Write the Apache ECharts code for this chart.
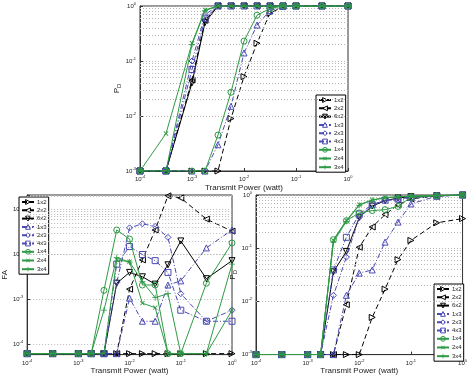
<!DOCTYPE html>
<html>
<head>
<meta charset="utf-8">
<script src="https://cdn.jsdelivr.net/npm/echarts@6/dist/echarts.min.js"></script>
<style>
  html, body { margin: 0; padding: 0; background: #fff; }
  #chart { width: 470px; height: 376px; }
</style>
</head>
<body>
<div id="chart"></div>
<script>
// transmit power (watt), shared by all three panels
const power = [1e-4, 3.16e-4, 1e-3, 1.78e-3, 3.16e-3, 5.62e-3, 1e-2, 1.78e-2, 3.16e-2, 5.62e-2, 1e-1, 3.16e-1, 1];
const seriesNames = ['1x2', '2x2', '6x2', '1x3', '2x3', '4x3', '1x4', '2x4', '3x4'];

// top panel: P_D
const topPd1x2 = [1e-3, 1e-3, 1e-3, 1e-3, 1e-3, 9e-3, 0.052, 0.21, 0.74, 0.97, 1, 1, 1];
const topPd2x2 = [1e-3, 1e-3, 0.045, 0.55, 1, 1, 1, 1, 1, 1, 1, 1, 1];
const topPd6x2 = [1e-3, 1e-3, 0.04, 0.5, 1, 1, 1, 1, 1, 1, 1, 1, 1];
const topPd1x3 = [1e-3, 1e-3, 1e-3, 1e-3, 3e-3, 0.015, 0.14, 0.45, 0.82, 0.98, 1, 1, 1];
const topPd2x3 = [1e-3, 1e-3, 0.1, 0.7, 1, 1, 1, 1, 1, 1, 1, 1, 1];
const topPd4x3 = [1e-3, 1e-3, 0.07, 0.6, 1, 1, 1, 1, 1, 1, 1, 1, 1];
const topPd1x4 = [1e-3, 1e-3, 1e-3, 1e-3, 4.5e-3, 0.027, 0.23, 0.68, 0.9, 1, 1, 1, 1];
const topPd2x4 = [1e-3, 4.8e-3, 0.21, 0.85, 1, 1, 1, 1, 1, 1, 1, 1, 1];
const topPd3x4 = [1e-3, 1e-3, 0.2, 0.82, 1, 1, 1, 1, 1, 1, 1, 1, 1];

// bottom-left panel: false alarm
const faFloor = 6.3e-5;
const fa1x2 = [faFloor, faFloor, faFloor, faFloor, faFloor, faFloor, faFloor, faFloor, faFloor, faFloor, faFloor, faFloor, faFloor];
const fa2x2 = [faFloor, faFloor, faFloor, faFloor, faFloor, faFloor, 1.7e-3, 7.6e-3, 0.035, 0.2, 0.18, 0.061, 0.033];
const fa6x2 = [faFloor, faFloor, faFloor, faFloor, faFloor, 2.3e-3, 4e-3, 3.2e-3, 2.2e-3, 5.9e-3, 0.02, 2.9e-3, 7.3e-3];
const fa1x3 = [faFloor, faFloor, faFloor, faFloor, faFloor, faFloor, 1.07e-3, 3.3e-4, 3.3e-4, 2.1e-3, 2.6e-3, 0.014, 0.035];
const fa2x3 = [faFloor, faFloor, faFloor, faFloor, faFloor, 2.4e-3, 0.039, 0.048, 0.042, 0.024, 1.35e-3, 3.3e-4, 5.8e-4];
const fa4x3 = [faFloor, faFloor, faFloor, faFloor, faFloor, 6.1e-3, 0.015, 0.01, 7.3e-3, 4e-3, 5.8e-4, 3.3e-4, 3.3e-4];
const fa1x4 = [faFloor, faFloor, faFloor, faFloor, 1.6e-3, 0.035, 0.022, 2.1e-3, 2.1e-3, faFloor, faFloor, 2.3e-3, 0.018];
const fa2x4 = [faFloor, faFloor, faFloor, faFloor, faFloor, 7.6e-3, 6.9e-3, 8.3e-4, 6.6e-4, faFloor, faFloor, faFloor, 5.8e-4];
const fa3x4 = [faFloor, faFloor, faFloor, faFloor, 5.8e-4, 8.5e-3, 6.8e-3, 2.5e-3, 1.1e-3, 1.35e-3, faFloor, faFloor, 6.1e-3];

// bottom-right panel: P_D
const brPd1x2 = [1e-3, 1e-3, 1e-3, 1e-3, 1e-3, 1e-3, 1e-3, 5e-3, 0.017, 0.061, 0.14, 0.3, 0.36];
const brPd2x2 = [1e-3, 1e-3, 1e-3, 1e-3, 1e-3, 8.7e-3, 0.104, 0.25, 0.43, 0.65, 0.85, 0.95, 1];
const brPd6x2 = [1e-3, 1e-3, 1e-3, 1e-3, 0.036, 0.087, 0.38, 0.62, 0.78, 0.88, 0.93, 0.97, 1];
const brPd1x3 = [1e-3, 1e-3, 1e-3, 1e-3, 1e-3, 0.013, 0.034, 0.039, 0.13, 0.31, 0.68, 0.95, 1];
const brPd2x3 = [1e-3, 1e-3, 1e-3, 1e-3, 0.013, 0.068, 0.38, 0.64, 0.8, 0.8, 0.88, 0.96, 1];
const brPd4x3 = [1e-3, 1e-3, 1e-3, 1e-3, 0.039, 0.16, 0.44, 0.66, 0.8, 0.84, 0.9, 0.96, 1];
const brPd1x4 = [1e-3, 1e-3, 1e-3, 1e-3, 0.145, 0.33, 0.46, 0.51, 0.53, 0.61, 0.9, 0.96, 1];
const brPd2x4 = [1e-3, 1e-3, 1e-3, 1e-3, 0.14, 0.33, 0.66, 0.81, 0.9, 0.93, 0.95, 0.98, 1];
const brPd3x4 = [1e-3, 1e-3, 1e-3, 1e-3, 0.13, 0.32, 0.64, 0.8, 0.88, 0.92, 0.95, 0.98, 1];

const black = '#000000';
const blue = '#4a4ab4';
const green = '#2f9a45';
const dashed = [5, 3];
const dashDot = [5, 2, 1, 2];
const plusPath = 'path://M4.3,0H5.7V4.3H10V5.7H5.7V10H4.3V5.7H0V4.3H4.3Z';

// marker + line style for each legend entry
const styles = {
  '1x2': { color: black, line: dashed, symbol: 'triangle', rotate: -90 },
  '2x2': { color: black, line: dashed, symbol: 'triangle', rotate: 90 },
  '6x2': { color: black, line: 'solid', symbol: 'triangle', rotate: 180 },
  '1x3': { color: blue, line: dashDot, symbol: 'triangle', rotate: 0 },
  '2x3': { color: blue, line: dashDot, symbol: 'diamond', rotate: 0 },
  '4x3': { color: blue, line: dashDot, symbol: 'rect', rotate: 0 },
  '1x4': { color: green, line: 'solid', symbol: 'circle', rotate: 0 },
  '2x4': { color: green, line: 'solid', symbol: plusPath, rotate: 45, filled: true },
  '3x4': { color: green, line: 'solid', symbol: plusPath, rotate: 0, filled: true },
};

const topData = [topPd1x2, topPd2x2, topPd6x2, topPd1x3, topPd2x3, topPd4x3, topPd1x4, topPd2x4, topPd3x4];
const faData = [fa1x2, fa2x2, fa6x2, fa1x3, fa2x3, fa4x3, fa1x4, fa2x4, fa3x4];
const brData = [brPd1x2, brPd2x2, brPd6x2, brPd1x3, brPd2x3, brPd4x3, brPd1x4, brPd2x4, brPd3x4];

function markerStyle(s) {
  return s.filled
    ? { color: s.color, borderWidth: 0 }
    : { color: 'rgba(255,255,255,0)', borderColor: s.color, borderWidth: 1 };
}

function minorLines(fromExp, toExp, lo, hi) {
  const out = [];
  for (let e = fromExp; e <= toExp; e++) {
    for (let m = 2; m <= 9; m++) {
      const v = m * Math.pow(10, e);
      if (v > lo && v < hi) out.push({ yAxis: v });
    }
  }
  return out;
}

function makeSeries(dataSets, idx, minor) {
  return seriesNames.map((name, i) => {
    const s = styles[name];
    const item = {
      name,
      type: 'line',
      xAxisIndex: idx,
      yAxisIndex: idx,
      data: power.map((p, j) => [p, dataSets[i][j]]),
      symbol: s.symbol,
      symbolSize: 6,
      symbolRotate: s.rotate,
      symbolKeepAspect: true,
      showAllSymbol: true,
      lineStyle: { color: s.color, width: 1, type: s.line },
      itemStyle: markerStyle(s),
      emphasis: { disabled: true },
      z: 3 + i,
    };
    if (i === 0) {
      item.markLine = {
        silent: true,
        symbol: ['none', 'none'],
        label: { show: false },
        lineStyle: { color: '#b8b8b8', type: [1, 2], width: 1 },
        data: minor,
        animation: false,
      };
    }
    return item;
  });
}

const expLabel = {
  fontSize: 6,
  color: '#222',
  formatter: (v) => {
    const e = Math.log10(v);
    if (Math.abs(e - Math.round(e)) > 1e-6) return '';
    return '10{s|' + Math.round(e) + '}';
  },
  rich: { s: { fontSize: 4, padding: [0, 0, 5, 0] } },
};

function xAxis(idx) {
  return {
    type: 'log',
    logBase: 10,
    gridIndex: idx,
    min: 1e-4,
    max: 1,
    name: 'Transmit Power (watt)',
    nameLocation: 'middle',
    nameGap: 12,
    nameTextStyle: { fontSize: 8, color: '#222' },
    axisLine: { lineStyle: { color: '#333', width: 1 } },
    axisTick: { inside: true, length: 3, lineStyle: { color: '#333' } },
    axisLabel: Object.assign({ margin: 4 }, expLabel),
    splitLine: { show: false },
  };
}

function yAxis(idx, min, max, name, gap) {
  return {
    type: 'log',
    logBase: 10,
    gridIndex: idx,
    min,
    max,
    name,
    nameLocation: 'middle',
    nameGap: gap,
    nameTextStyle: {
      fontSize: 8,
      color: '#222',
      rich: { sub: { fontSize: 6, padding: [4, 0, 0, 0] } },
    },
    axisLine: { lineStyle: { color: '#333', width: 1 } },
    axisTick: { inside: true, length: 3, lineStyle: { color: '#333' } },
    axisLabel: Object.assign({ margin: 4 }, expLabel),
    splitLine: { show: true, lineStyle: { color: '#b8b8b8', type: [1, 2], width: 1 } },
  };
}

function legend(left, top) {
  return {
    data: seriesNames.map((name) => ({ name, itemStyle: markerStyle(styles[name]) })),
    orient: 'vertical',
    left,
    top,
    itemWidth: 12,
    itemHeight: 6,
    itemGap: 2.3,
    padding: [2, 2, 2, 2],
    backgroundColor: '#fff',
    borderColor: '#000',
    borderWidth: 1,
    borderRadius: 0,
    selectedMode: false,
    textStyle: { fontSize: 6, color: '#222', lineHeight: 6, padding: [0, 0, 0, -2] },
  };
}

const chart = echarts.init(document.getElementById('chart'), null, { renderer: 'canvas' });
chart.setOption({
  animation: false,
  backgroundColor: '#fff',
  grid: [
    { left: 140, top: 6, width: 208, height: 165, show: true, borderColor: '#333', borderWidth: 1 },
    { left: 18, top: 195, width: 214, height: 166, show: true, borderColor: '#333', borderWidth: 1 },
    { left: 256, top: 195, width: 209, height: 165, show: true, borderColor: '#333', borderWidth: 1 },
  ],
  xAxis: [xAxis(0), xAxis(1), xAxis(2)],
  yAxis: [
    yAxis(0, 1e-3, 1, 'P{sub|D}', 11),
    yAxis(1, 6e-5, 0.209, 'FA', 14),
    yAxis(2, 1e-3, 1, 'P{sub|D}', 13),
  ],
  legend: [legend(316, 95), legend(19, 197), legend(434, 284)],
  series: [
    ...makeSeries(topData, 0, minorLines(-3, -1, 1e-3, 1)),
    ...makeSeries(faData, 1, minorLines(-5, -1, 6e-5, 0.209)),
    ...makeSeries(brData, 2, minorLines(-3, -1, 1e-3, 1)),
  ],
});
</script>
</body>
</html>
